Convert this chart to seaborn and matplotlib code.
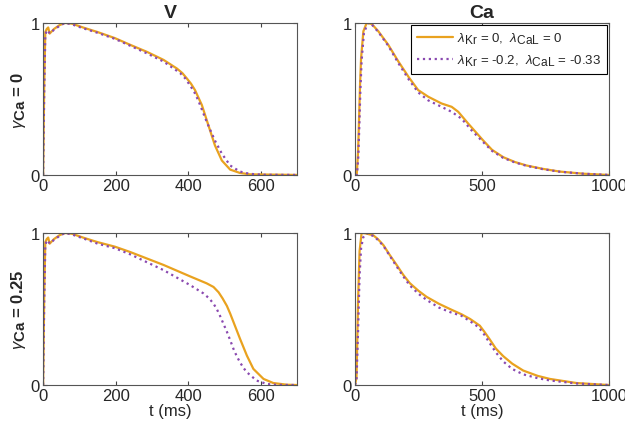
import numpy as np
import pandas as pd
import seaborn as sns
import matplotlib.pyplot as plt
import matplotlib._mathtext as mathtext_internals

# normalized traces (t in ms, value 0..1)
# V, gamma_Ca = 0
v0_t_base = [0, 3, 6, 10, 14, 18, 30, 45, 60, 80, 110, 150, 198, 240, 286, 332, 369, 384, 396, 408, 419, 438, 456, 474, 493, 516, 543, 570, 700]
v0_y_base = [0, 0.6, 0.94, 0.96, 0.97, 0.93, 0.96, 0.985, 1.0, 0.995, 0.97, 0.94, 0.90, 0.856, 0.81, 0.757, 0.70, 0.67, 0.636, 0.60, 0.558, 0.459, 0.326, 0.194, 0.095, 0.035, 0.013, 0.004, 0]
v0_t_mod = [0, 3, 6, 10, 14, 18, 30, 45, 60, 80, 110, 150, 198, 240, 286, 332, 378, 392, 405, 417, 428, 452, 474, 493, 516, 543, 570, 607, 700]
v0_y_mod = [0, 0.55, 0.92, 0.95, 0.95, 0.93, 0.955, 0.98, 1.0, 0.99, 0.965, 0.935, 0.895, 0.85, 0.80, 0.746, 0.67, 0.635, 0.59, 0.545, 0.49, 0.345, 0.226, 0.14, 0.062, 0.022, 0.007, 0.001, 0]

# V, gamma_Ca = 0.25
v1_t_base = [0, 3, 6, 10, 14, 18, 30, 45, 60, 80, 110, 150, 198, 240, 332, 405, 451, 470, 484, 495, 507, 516, 525, 543, 562, 580, 608, 635, 672, 700]
v1_y_base = [0, 0.6, 0.94, 0.96, 0.97, 0.93, 0.96, 0.985, 1.0, 0.995, 0.97, 0.94, 0.91, 0.875, 0.79, 0.715, 0.669, 0.645, 0.61, 0.57, 0.52, 0.47, 0.415, 0.305, 0.194, 0.106, 0.04, 0.013, 0.002, 0]
v1_t_mod = [0, 3, 6, 10, 14, 18, 30, 45, 60, 80, 110, 150, 198, 240, 332, 405, 442, 458, 470, 479, 488, 497, 507, 516, 525, 534, 543, 552, 562, 589, 617, 644, 700]
v1_y_mod = [0, 0.55, 0.92, 0.95, 0.95, 0.93, 0.955, 0.98, 1.0, 0.99, 0.965, 0.93, 0.9, 0.86, 0.756, 0.658, 0.603, 0.57, 0.535, 0.50, 0.455, 0.405, 0.35, 0.295, 0.238, 0.19, 0.15, 0.115, 0.084, 0.029, 0.007, 0.001, 0]

# Ca, gamma_Ca = 0
c0_t_base = [0, 7, 12, 16, 20, 24, 33, 46, 66, 92, 131, 171, 213, 249, 289, 341, 381, 407, 446, 505, 540, 584, 630, 676, 740, 807, 900, 1000]
c0_y_base = [0, 0.005, 0.15, 0.37, 0.6, 0.77, 0.945, 1.0, 0.993, 0.945, 0.856, 0.746, 0.64, 0.558, 0.514, 0.47, 0.448, 0.415, 0.338, 0.227, 0.165, 0.117, 0.085, 0.062, 0.04, 0.022, 0.008, 0]
c0_t_mod = [0, 8, 13, 17, 21, 26, 35, 50, 66, 92, 131, 171, 213, 249, 289, 341, 381, 420, 459, 505, 540, 584, 630, 676, 740, 807, 900, 1000]
c0_y_mod = [0, 0.005, 0.12, 0.32, 0.55, 0.75, 0.93, 1.0, 0.99, 0.94, 0.85, 0.735, 0.625, 0.543, 0.49, 0.448, 0.415, 0.37, 0.294, 0.216, 0.158, 0.112, 0.082, 0.06, 0.038, 0.021, 0.008, 0]

# Ca, gamma_Ca = 0.25
c1_t_base = [0, 6, 12, 18, 26, 40, 72, 90, 112, 135, 164, 190, 216, 250, 282, 330, 374, 420, 453, 475, 492, 510, 531, 555, 584, 620, 663, 720, 768, 873, 1000]
c1_y_base = [0, 0.05, 0.55, 0.88, 1.0, 0.998, 0.985, 0.96, 0.92, 0.86, 0.79, 0.725, 0.67, 0.62, 0.58, 0.535, 0.50, 0.465, 0.435, 0.41, 0.39, 0.35, 0.30, 0.24, 0.19, 0.14, 0.095, 0.06, 0.04, 0.013, 0]
c1_t_mod = [0, 6, 12, 18, 24, 32, 45, 72, 90, 112, 135, 164, 190, 216, 250, 282, 330, 374, 420, 453, 475, 492, 510, 531, 555, 584, 620, 663, 720, 768, 873, 1000]
c1_y_mod = [0, 0.03, 0.35, 0.72, 0.9, 0.97, 1.0, 0.98, 0.955, 0.915, 0.855, 0.78, 0.715, 0.655, 0.60, 0.56, 0.51, 0.48, 0.455, 0.42, 0.395, 0.37, 0.33, 0.275, 0.215, 0.155, 0.105, 0.07, 0.045, 0.03, 0.01, 0]

col_titles = ["V", "Ca"]
row_labels = [r"$\gamma_{\mathbf{Ca}}$ = 0", r"$\gamma_{\mathbf{Ca}}$ = 0.25"]
legend_labels = [r"$\lambda_{\mathrm{Kr}}$ = 0,  $\lambda_{\mathrm{CaL}}$ = 0",
                 r"$\lambda_{\mathrm{Kr}}$ = -0.2,  $\lambda_{\mathrm{CaL}}$ = -0.33"]

panels = [
    [(v0_t_base, v0_y_base, v0_t_mod, v0_y_mod), (c0_t_base, c0_y_base, c0_t_mod, c0_y_mod)],
    [(v1_t_base, v1_y_base, v1_t_mod, v1_y_mod), (c1_t_base, c1_y_base, c1_t_mod, c1_y_mod)],
]
xlims = [700, 1000]
xticks = [[0, 200, 400, 600], [0, 500, 1000]]

# matlab-style subscripts are nearly full size
mathtext_internals.SHRINK_FACTOR = 0.9

sns.set_style("ticks")
plt.rcParams["font.family"] = ["Liberation Sans", "DejaVu Sans"]
plt.rcParams["mathtext.fontset"] = "custom"
plt.rcParams["mathtext.rm"] = "Liberation Sans"
plt.rcParams["mathtext.bf"] = "Liberation Sans:bold"
plt.rcParams["mathtext.it"] = "Liberation Sans:italic"

orange = "#E9A21F"
purple = "#8A49B0"

fig = plt.figure(figsize=(6.25, 4.27), dpi=100)
lefts = [0.069, 0.568]
bottoms = [0.588, 0.096]
w, h = 0.406, 0.356

for r in range(2):
    for c in range(2):
        ax = fig.add_axes([lefts[c], bottoms[r], w, h])
        tb, yb, tm, ym = panels[r][c]
        sns.lineplot(x=tb, y=yb, ax=ax, color=orange, lw=1.6, sort=False,
                     label=legend_labels[0])
        sns.lineplot(x=tm, y=ym, ax=ax, color=purple, lw=1.6, linestyle=":",
                     sort=False, label=legend_labels[1])
        ax.set_xlim(0, xlims[c])
        ax.set_ylim(0, 1)
        ax.set_xticks(xticks[c])
        ax.set_yticks([0, 1])
        ax.tick_params(direction="in", length=3, labelsize=12, top=True,
                       right=True, color="#444444", pad=2.5)
        for s in ax.spines.values():
            s.set_color("#555555")
            s.set_linewidth(0.8)
        if r == 0:
            ax.set_title(col_titles[c], fontsize=14, fontweight="bold", pad=4)
        else:
            ax.set_xlabel("t (ms)", fontsize=12, labelpad=0)
        if c == 0:
            ax.set_ylabel(row_labels[r], fontsize=12, fontweight="bold", labelpad=2)
        if r == 0 and c == 1:
            leg = ax.legend(loc="upper right", fontsize=9.5, frameon=True,
                            fancybox=False, borderpad=0.45, labelspacing=0.5,
                            handlelength=2.7, handletextpad=0.3,
                            borderaxespad=0.15)
            leg.get_frame().set_edgecolor("black")
            leg.get_frame().set_linewidth(0.8)
            leg.get_frame().set_alpha(1)
        else:
            ax.get_legend().remove()

fig.savefig("out.png", dpi=100)
